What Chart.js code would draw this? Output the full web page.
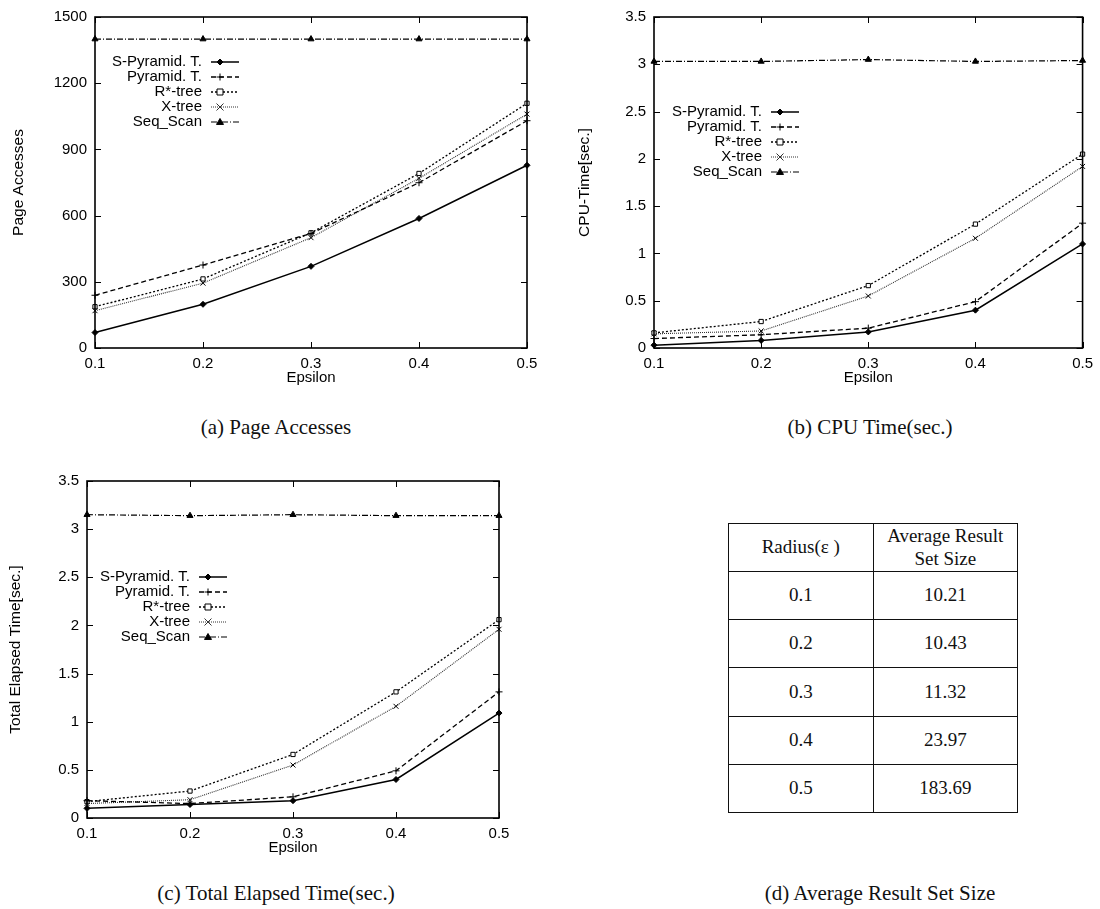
<!DOCTYPE html>
<html>
<head>
<meta charset="utf-8">
<script src="https://cdn.jsdelivr.net/npm/chart.js@4.4.1/dist/chart.umd.min.js"></script>
<style>
  body { margin: 0; background: #fff; }
  #page { position: relative; width: 1100px; height: 909px; background: #fff; overflow: hidden; }
  canvas { position: absolute; }
  .cap { position: absolute; transform: translate(-50%, -50%); white-space: nowrap;
         font: 21px "Liberation Serif", "Times New Roman", serif; color: #111; }
  #sizeTable { position: absolute; left: 728px; top: 523px; width: 290px; height: 290px;
               border-collapse: collapse; table-layout: fixed;
               font: 19px "Liberation Serif", "Times New Roman", serif; color: #111; }
  #sizeTable td { border: 1.5px solid #111; text-align: center; height: 47px; padding: 0; line-height: 1.2; }
</style>
</head>
<body>
<div id="page">
  <canvas id="pageChart" width="545" height="395" style="left:0;top:0"></canvas>
  <canvas id="cpuChart" width="545" height="395" style="left:555px;top:0"></canvas>
  <canvas id="totalChart" width="520" height="425" style="left:0;top:440px"></canvas>
  <table id="sizeTable"></table>
  <div class="cap" style="left:276px;top:427px">(a) Page Accesses</div>
  <div class="cap" style="left:870px;top:427px">(b) CPU Time(sec.)</div>
  <div class="cap" style="left:276px;top:893px">(c) Total Elapsed Time(sec.)</div>
  <div class="cap" style="left:880px;top:893px">(d) Average Result Set Size</div>
</div>
<script>
// x values
const epsilon = ["0.1", "0.2", "0.3", "0.4", "0.5"];
const seriesNames = ["S-Pyramid. T.", "Pyramid. T.", "R*-tree", "X-tree", "Seq_Scan"];

// (a) page accesses
const sPyrPages = [70, 198, 370, 587, 828];
const pyrPages = [239, 376, 519, 749, 1030];
const rstarPages = [187, 313, 522, 791, 1109];
const xtreePages = [169, 294, 500, 769, 1060];
const seqPages = [1400, 1400, 1400, 1400, 1400];

// (b) cpu time
const sPyrCpu = [0.03, 0.08, 0.17, 0.40, 1.10];
const pyrCpu = [0.10, 0.14, 0.21, 0.49, 1.32];
const rstarCpu = [0.16, 0.28, 0.66, 1.31, 2.05];
const xtreeCpu = [0.15, 0.18, 0.55, 1.16, 1.92];
const seqCpu = [3.03, 3.03, 3.05, 3.03, 3.04];

// (c) total elapsed time
const sPyrTotal = [0.10, 0.14, 0.18, 0.40, 1.09];
const pyrTotal = [0.18, 0.15, 0.22, 0.49, 1.31];
const rstarTotal = [0.17, 0.28, 0.66, 1.31, 2.06];
const xtreeTotal = [0.15, 0.19, 0.55, 1.16, 1.96];
const seqTotal = [3.15, 3.14, 3.15, 3.14, 3.14];

// (d) table
const radii = ["0.1", "0.2", "0.3", "0.4", "0.5"];
const resultSizes = ["10.21", "10.43", "11.32", "23.97", "183.69"];

// line look for each series, same order as seriesNames
const seriesStyles = [
  { borderDash: [], pointStyle: "rectRot", pointRadius: 3, borderWidth: 1.5 },
  { borderDash: [5, 3], pointStyle: "cross", pointRadius: 3.5, borderWidth: 1.3 },
  { borderDash: [2, 2], pointStyle: "rect", pointRadius: 3, borderWidth: 1.3, pointBackgroundColor: "#fff" },
  { borderDash: [1, 1], pointStyle: "crossRot", pointRadius: 3.5, borderWidth: 1.1, borderColor: "#333" },
  { borderDash: [6, 2, 1, 2], pointStyle: "triangle", pointRadius: 3.5, borderWidth: 1.2 }
];

const sansFont = '"Liberation Sans", Arial, Helvetica, sans-serif';
Chart.defaults.font.family = sansFont;
Chart.defaults.font.size = 15;
Chart.defaults.color = "#000";

// gnuplot style box with inward ticks
const gnuplotFrame = {
  id: "gnuplotFrame",
  afterDraw(chart) {
    const { ctx, chartArea: a, scales: { x, y } } = chart;
    ctx.save();
    ctx.strokeStyle = "#000";
    ctx.lineWidth = 1.6;
    ctx.strokeRect(a.left, a.top, a.right - a.left, a.bottom - a.top);
    ctx.lineWidth = 1;
    ctx.beginPath();
    y.ticks.forEach(t => {
      const py = Math.round(y.getPixelForValue(t.value)) + 0.5;
      ctx.moveTo(a.left, py); ctx.lineTo(a.left + 6, py);
      ctx.moveTo(a.right, py); ctx.lineTo(a.right - 6, py);
    });
    x.ticks.forEach((t, i) => {
      const px = Math.round(x.getPixelForTick(i)) + 0.5;
      ctx.moveTo(px, a.bottom); ctx.lineTo(px, a.bottom - 6);
      ctx.moveTo(px, a.top); ctx.lineTo(px, a.top + 6);
    });
    ctx.stroke();
    ctx.restore();
  }
};

function drawMark(ctx, style, x, y, r, fill) {
  ctx.beginPath();
  if (style === "rectRot") {
    ctx.moveTo(x, y - r); ctx.lineTo(x + r, y); ctx.lineTo(x, y + r); ctx.lineTo(x - r, y); ctx.closePath();
    ctx.fill(); ctx.stroke();
  } else if (style === "cross") {
    ctx.moveTo(x - r, y); ctx.lineTo(x + r, y); ctx.moveTo(x, y - r); ctx.lineTo(x, y + r);
    ctx.stroke();
  } else if (style === "rect") {
    ctx.rect(x - r, y - r, 2 * r, 2 * r);
    ctx.fillStyle = fill || "#000"; ctx.fill(); ctx.stroke();
  } else if (style === "crossRot") {
    ctx.moveTo(x - r, y - r); ctx.lineTo(x + r, y + r); ctx.moveTo(x + r, y - r); ctx.lineTo(x - r, y + r);
    ctx.stroke();
  } else if (style === "triangle") {
    ctx.moveTo(x, y - r); ctx.lineTo(x + r, y + r * 0.7); ctx.lineTo(x - r, y + r * 0.7); ctx.closePath();
    ctx.fill(); ctx.stroke();
  }
}

// key inside the plot: right aligned text, then sample line with marker
const keyBox = {
  id: "keyBox",
  afterDraw(chart, args, opts) {
    const { ctx, chartArea: a } = chart;
    ctx.save();
    ctx.font = "15px " + sansFont;
    ctx.textAlign = "right";
    ctx.textBaseline = "middle";
    chart.data.datasets.forEach((ds, i) => {
      const tx = a.left + opts.x, ty = a.top + opts.y + i * 15;
      ctx.fillStyle = "#000";
      ctx.fillText(ds.label, tx, ty);
      ctx.strokeStyle = ds.borderColor;
      ctx.lineWidth = ds.borderWidth;
      ctx.setLineDash(ds.borderDash);
      ctx.beginPath();
      ctx.moveTo(tx + 9, ty); ctx.lineTo(tx + 37, ty);
      ctx.stroke();
      ctx.setLineDash([]);
      ctx.lineWidth = 1;
      ctx.fillStyle = "#000";
      drawMark(ctx, ds.pointStyle, tx + 18, ty, ds.pointRadius, ds.pointBackgroundColor);
    });
    ctx.restore();
  }
};

function makeChart(id, seriesData, o) {
  const datasets = seriesData.map((d, i) => Object.assign({
    label: seriesNames[i],
    data: d,
    borderColor: "#000",
    backgroundColor: "#000",
    pointBorderColor: "#000",
    pointBorderWidth: 1,
    fill: false,
    tension: 0,
    clip: false
  }, seriesStyles[i]));

  return new Chart(document.getElementById(id), {
    type: "line",
    data: { labels: epsilon, datasets: datasets },
    options: {
      responsive: false,
      animation: false,
      devicePixelRatio: 1,
      layout: { padding: o.pad },
      plugins: {
        legend: { display: false },
        tooltip: { enabled: false },
        keyBox: o.key
      },
      scales: {
        x: {
          grid: { display: false, drawTicks: false },
          border: { display: false },
          ticks: { color: "#000", padding: 7, maxRotation: 0, autoSkip: false },
          title: { display: true, text: "Epsilon", color: "#000", font: { size: 15 }, padding: { top: 0, bottom: 8 } },
          afterFit: s => { s.height = 47; }
        },
        y: {
          min: 0,
          max: o.max,
          grid: { display: false, drawTicks: false },
          border: { display: false },
          ticks: { color: "#000", padding: 8, stepSize: o.step, callback: v => String(v) },
          title: { display: true, text: o.title, color: "#000", font: { size: 15.5 }, padding: { top: o.titlePad, bottom: 0 } },
          afterFit: s => { s.width = o.yWidth; }
        }
      }
    },
    plugins: [gnuplotFrame, keyBox]
  });
}

makeChart("pageChart", [sPyrPages, pyrPages, rstarPages, xtreePages, seqPages], {
  max: 1500, step: 300, title: "Page Accesses", titlePad: 9, yWidth: 95,
  pad: { top: 13, right: 18, bottom: 0, left: 0 },
  key: { x: 107, y: 45 }
});

makeChart("cpuChart", [sPyrCpu, pyrCpu, rstarCpu, xtreeCpu, seqCpu], {
  max: 3.5, step: 0.5, title: "CPU-Time[sec.]", titlePad: 20, yWidth: 99,
  pad: { top: 13, right: 13, bottom: 0, left: 0 },
  key: { x: 108, y: 95 }
});

makeChart("totalChart", [sPyrTotal, pyrTotal, rstarTotal, xtreeTotal, seqTotal], {
  max: 3.5, step: 0.5, title: "Total Elapsed Time[sec.]", titlePad: 6, yWidth: 87,
  pad: { top: 41, right: 21, bottom: 0, left: 0 },
  key: { x: 103, y: 96 }
});

// table (d)
const table = document.getElementById("sizeTable");
let rows = '<tr><td>Radius(&#949; )</td><td>Average Result<br>Set Size</td></tr>';
radii.forEach((r, i) => {
  rows += "<tr><td>" + r + "</td><td>" + resultSizes[i] + "</td></tr>";
});
table.innerHTML = rows;
</script>
</body>
</html>
